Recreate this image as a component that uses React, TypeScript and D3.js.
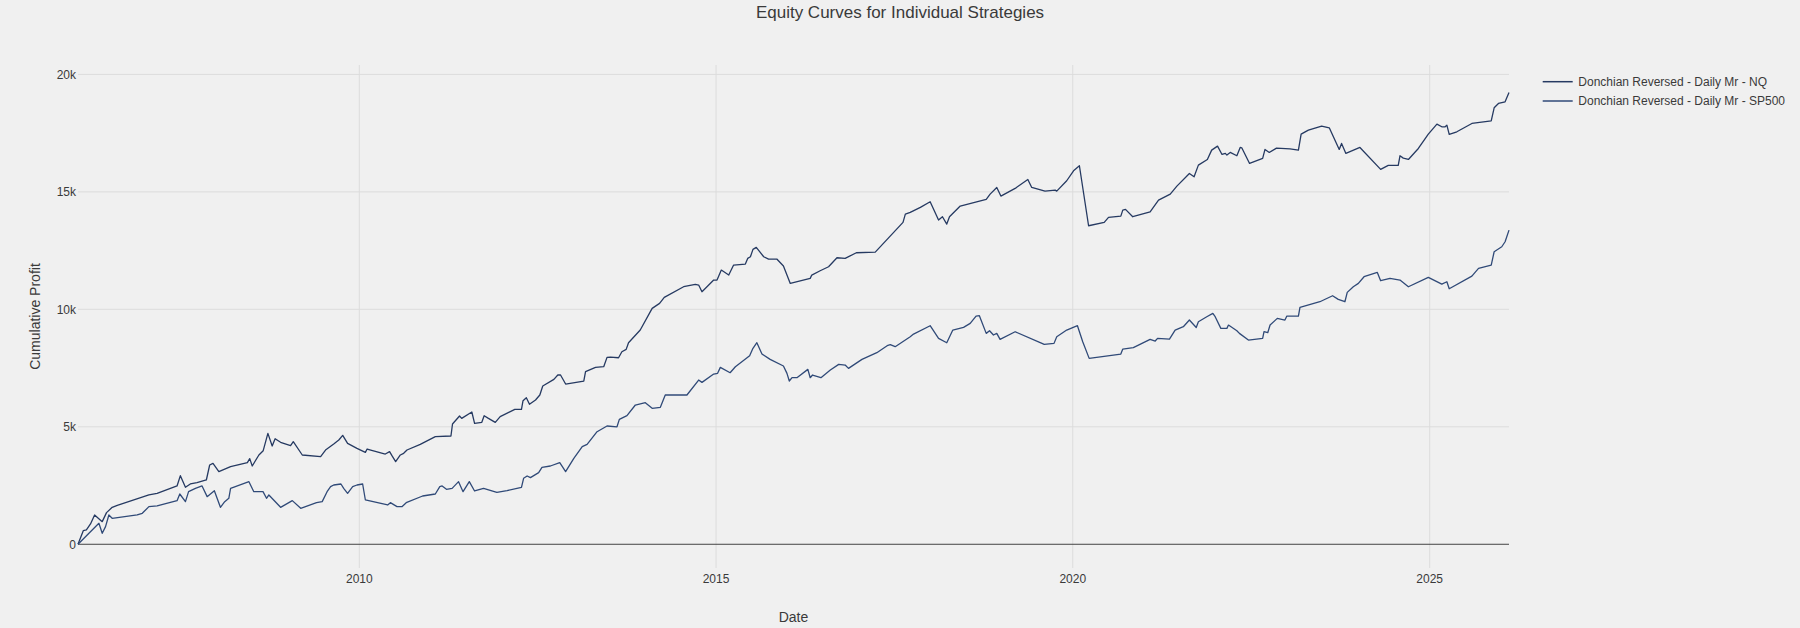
import * as d3 from "d3";
import { useEffect } from "react";

// --- data ---
const nqDates = [
  "2006-01-22", "2006-02-18", "2006-03-06", "2006-03-27", "2006-04-17", "2006-05-26", "2006-06-17", "2006-07-16",
  "2006-08-11", "2007-01-20", "2007-03-03", "2007-06-13", "2007-06-30", "2007-07-26", "2007-08-20", "2007-09-23",
  "2007-11-10", "2007-11-27", "2007-12-14", "2008-01-13", "2008-03-13", "2008-06-07", "2008-06-19", "2008-07-02",
  "2008-08-05", "2008-08-27", "2008-09-20", "2008-10-12", "2008-10-27", "2008-11-24", "2009-01-14", "2009-01-28",
  "2009-03-15", "2009-06-17", "2009-07-12", "2009-08-23", "2009-09-18", "2009-10-08", "2009-11-02", "2009-12-20",
  "2010-02-01", "2010-02-10", "2010-05-14", "2010-06-05", "2010-06-17", "2010-07-06", "2010-07-30", "2010-08-16",
  "2010-09-02", "2010-11-09", "2011-01-25", "2011-04-15", "2011-04-23", "2011-05-29", "2011-06-09", "2011-07-31",
  "2011-08-14", "2011-09-20", "2011-10-02", "2011-10-24", "2011-11-28", "2011-12-23", "2012-03-07", "2012-04-10",
  "2012-04-18", "2012-05-05", "2012-05-21", "2012-06-21", "2012-07-13", "2012-07-28", "2012-09-23", "2012-10-13",
  "2012-10-27", "2012-11-22", "2013-02-23", "2013-03-04", "2013-04-24", "2013-06-05", "2013-06-22", "2013-07-09",
  "2013-08-20", "2013-09-06", "2013-09-28", "2013-10-10", "2013-12-09", "2014-02-08", "2014-03-18", "2014-04-11",
  "2014-07-19", "2014-09-17", "2014-10-04", "2014-10-21", "2014-12-20", "2015-01-06", "2015-01-28", "2015-03-07",
  "2015-04-01", "2015-05-31", "2015-06-12", "2015-06-26", "2015-07-09", "2015-07-26", "2015-09-02", "2015-09-27",
  "2015-11-08", "2015-12-12", "2016-01-16", "2016-04-27", "2016-05-05", "2016-06-17", "2016-07-30", "2016-09-11",
  "2016-10-23", "2016-12-19", "2017-03-26", "2017-08-15", "2017-08-27", "2017-09-21", "2017-11-12", "2018-01-01",
  "2018-02-13", "2018-03-05", "2018-03-27", "2018-04-10", "2018-06-04", "2018-10-15", "2018-11-04", "2018-12-08",
  "2018-12-29", "2019-03-12", "2019-05-16", "2019-06-05", "2019-08-12", "2019-10-03", "2019-10-11", "2019-12-01",
  "2020-01-05", "2020-02-04", "2020-03-22", "2020-06-10", "2020-07-02", "2020-09-03", "2020-09-13", "2020-09-27",
  "2020-11-03", "2021-01-31", "2021-03-15", "2021-05-14", "2021-06-17", "2021-08-20", "2021-09-13", "2021-10-05",
  "2021-11-20", "2021-12-12", "2022-01-11", "2022-02-03", "2022-02-20", "2022-02-28", "2022-03-17", "2022-04-20",
  "2022-05-07", "2022-05-15", "2022-06-24", "2022-08-30", "2022-09-11", "2022-10-03", "2022-11-09", "2023-01-17",
  "2023-03-01", "2023-03-15", "2023-04-21", "2023-06-28", "2023-08-06", "2023-09-26", "2023-10-08", "2023-10-30",
  "2024-01-10", "2024-04-25", "2024-06-03", "2024-07-24", "2024-08-02", "2024-08-19", "2024-09-14", "2024-11-04",
  "2024-12-25", "2025-02-07", "2025-03-04", "2025-03-21", "2025-03-30", "2025-04-11", "2025-05-20", "2025-08-05",
  "2025-11-12", "2025-11-27", "2025-12-19", "2026-01-22", "2026-02-11",
];
const nqValues = [
  0, 580, 608, 864, 1247, 963, 1346, 1573,
  1658, 2098, 2169, 2481, 2920, 2424, 2566, 2622,
  2736, 3374, 3445, 3090, 3303, 3473, 3644, 3332,
  3800, 3984, 4722, 4183, 4495, 4339, 4197, 4367,
  3800, 3729, 4012, 4268, 4438, 4637, 4296, 4083,
  3913, 4055, 3842, 3941, 3771, 3516, 3800, 3871,
  4012, 4254, 4580, 4608, 5119, 5459, 5360, 5629,
  5147, 5190, 5473, 5360, 5190, 5431, 5743, 5743,
  6112, 6239, 5956, 6140, 6353, 6736, 7019, 7204,
  7204, 6821, 6948, 7345, 7530, 7558, 7956, 7970,
  7940, 8196, 8296, 8579, 9118, 10040, 10253, 10509,
  10962, 11062, 11033, 10749, 11246, 11246, 11671, 11459,
  11884, 11927, 12168, 12239, 12551, 12636, 12239, 12140,
  12140, 11842, 11104, 11317, 11459, 11643, 11813, 12196,
  12168, 12409, 12437, 13700, 14050, 14125, 14338, 14579,
  13799, 13941, 13629, 13941, 14395, 14678, 14905, 15189,
  14820, 15147, 15529, 15189, 15033, 15075, 15033, 15473,
  15898, 16111, 13558, 13700, 13913, 13969, 14224, 14253,
  13941, 14153, 14650, 14905, 15246, 15785, 15643, 16139,
  16380, 16777, 16948, 16593, 16636, 16565, 16678, 16536,
  16891, 16877, 16210, 16423, 16806, 16678, 16863, 16834,
  16777, 17458, 17628, 17799, 17728, 16806, 17061, 16636,
  16891, 15955, 16125, 16125, 16536, 16437, 16380, 16848,
  17458, 17884, 17770, 17770, 17841, 17444, 17557, 17912,
  18025, 18579, 18763, 18834, 19231,
];

const spDates = [
  "2006-01-22", "2006-05-09", "2006-05-26", "2006-06-12", "2006-06-29", "2006-07-16", "2006-11-21", "2006-12-17",
  "2007-01-20", "2007-03-03", "2007-06-13", "2007-06-27", "2007-07-26", "2007-08-11", "2007-09-15", "2007-10-19",
  "2007-11-14", "2007-12-21", "2008-01-21", "2008-02-12", "2008-03-04", "2008-03-13", "2008-06-15", "2008-07-10",
  "2008-08-26", "2008-09-13", "2008-09-25", "2008-11-24", "2009-01-23", "2009-03-07", "2009-05-27", "2009-06-25",
  "2009-07-20", "2009-08-07", "2009-08-23", "2009-09-29", "2009-10-13", "2009-11-02", "2009-11-28", "2009-12-20",
  "2010-01-18", "2010-02-01", "2010-05-26", "2010-06-09", "2010-07-13", "2010-08-07", "2010-08-29", "2010-11-21",
  "2011-01-25", "2011-02-17", "2011-03-01", "2011-03-23", "2011-04-21", "2011-05-24", "2011-06-16", "2011-07-18",
  "2011-08-14", "2011-09-29", "2011-12-06", "2012-01-27", "2012-04-10", "2012-04-21", "2012-05-09", "2012-05-26",
  "2012-07-07", "2012-07-24", "2012-09-05", "2012-10-23", "2012-11-22", "2013-01-03", "2013-02-15", "2013-03-12",
  "2013-05-02", "2013-06-22", "2013-08-12", "2013-08-24", "2013-10-02", "2013-11-14", "2014-01-04", "2014-02-08",
  "2014-03-22", "2014-04-16", "2014-08-05", "2014-10-04", "2014-10-21", "2014-12-20", "2015-01-09", "2015-01-23",
  "2015-03-14", "2015-04-10", "2015-06-22", "2015-07-09", "2015-07-29", "2015-08-24", "2015-10-05", "2015-12-12",
  "2015-12-30", "2016-01-11", "2016-01-25", "2016-02-19", "2016-04-15", "2016-04-27", "2016-05-09", "2016-06-21",
  "2016-08-08", "2016-09-20", "2016-10-23", "2016-11-09", "2017-01-17", "2017-04-03", "2017-05-26", "2017-06-11",
  "2017-07-06", "2017-09-21", "2017-10-08", "2018-01-01", "2018-02-13", "2018-03-27", "2018-04-27", "2018-06-21",
  "2018-07-25", "2018-08-24", "2018-09-10", "2018-10-15", "2018-11-01", "2018-11-21", "2018-12-08", "2018-12-25",
  "2019-03-12", "2019-08-08", "2019-09-27", "2019-10-11", "2019-12-01", "2020-01-25", "2020-02-21", "2020-03-25",
  "2020-09-03", "2020-09-13", "2020-11-06", "2021-01-31", "2021-02-26", "2021-03-10", "2021-05-10", "2021-06-08",
  "2021-07-20", "2021-08-20", "2021-09-24", "2021-10-05", "2021-11-17", "2021-12-18", "2021-12-30", "2022-01-28",
  "2022-02-28", "2022-03-08", "2022-04-20", "2022-05-03", "2022-06-18", "2022-08-30", "2022-09-06", "2022-09-25",
  "2022-10-07", "2022-11-13", "2022-12-22", "2023-01-01", "2023-03-01", "2023-03-09", "2023-06-19", "2023-08-23",
  "2023-09-21", "2023-10-25", "2023-11-06", "2023-12-07", "2024-01-02", "2024-01-31", "2024-04-08", "2024-04-25",
  "2024-06-12", "2024-08-02", "2024-09-14", "2024-12-25", "2025-03-04", "2025-03-30", "2025-04-11", "2025-08-05",
  "2025-09-08", "2025-11-12", "2025-11-27", "2026-01-05", "2026-01-22", "2026-02-11",
];
const spValues = [
  0, 892, 467, 750, 1247, 1105, 1247, 1318,
  1601, 1630, 1857, 2140, 1814, 2239, 2381, 2481,
  2027, 2282, 1573, 1814, 1956, 2381, 2665, 2239,
  2239, 1956, 2098, 1573, 1857, 1531, 1771, 1814,
  2239, 2452, 2523, 2566, 2381, 2169, 2452, 2523,
  2566, 1885, 1672, 1771, 1601, 1601, 1771, 2055,
  2140, 2452, 2481, 2339, 2381, 2665, 2239, 2665,
  2268, 2381, 2211, 2282, 2424, 2807, 2906, 2835,
  3048, 3275, 3332, 3473, 3090, 3658, 4154, 4254,
  4792, 5034, 5000, 5317, 5473, 5927, 6026, 5786,
  5828, 6353, 6353, 6991, 6892, 7246, 7275, 7530,
  7303, 7558, 8026, 8339, 8579, 8097, 7870, 7587,
  7275, 6948, 7090, 7090, 7445, 7090, 7204, 7090,
  7416, 7658, 7629, 7487, 7870, 8154, 8452, 8494,
  8409, 8835, 8948, 9303, 8764, 8579, 9118, 9232,
  9402, 9714, 9728, 8977, 9090, 8906, 8977, 8722,
  9047, 8509, 8551, 8835, 9118, 9303, 8622, 7913,
  8097, 8310, 8367, 8722, 8651, 8764, 8736, 9118,
  9260, 9544, 9225, 9473, 9686, 9828, 9686, 9190,
  9190, 9331, 9090, 8977, 8693, 8764, 9047, 9005,
  9331, 9615, 9544, 9714, 9714, 10083, 10324, 10579,
  10423, 10324, 10721, 10962, 11104, 11388, 11572, 11217,
  11317, 11246, 10962, 11359, 11076, 11175, 10877, 11416,
  11743, 11884, 12451, 12664, 12877, 13373,
];

const seriesNames = [
  "Donchian Reversed - Daily Mr - NQ",
  "Donchian Reversed - Daily Mr - SP500",
];
const seriesColors = ["#263a62", "#304a78"];

const xTicks = ["2010-01-01", "2015-01-01", "2020-01-01", "2025-01-01"];
const xTickLabels = ["2010", "2015", "2020", "2025"];
const yTicks = [0, 5000, 10000, 15000, 20000];
const yTickLabels = ["0", "5k", "10k", "15k", "20k"];

const width = 1800;
const height = 628;
const margin = { top: 65, right: 291, bottom: 60, left: 78 };
const font = "Arial, 'Liberation Sans', sans-serif";
const textColor = "#3a3a3a";

type Pt = { date: Date; value: number };

export default function App() {
  useEffect(() => {
    document.body.style.margin = "0";
    document.body.style.background = "#f0f0f0";
  }, []);

  const parse = d3.utcParse("%Y-%m-%d");
  const series: Pt[][] = [
    nqDates.map((d, i) => ({ date: parse(d) as Date, value: nqValues[i] })),
    spDates.map((d, i) => ({ date: parse(d) as Date, value: spValues[i] })),
  ];

  const allDates = series.flat().map((p) => p.date);
  const x = d3
    .scaleUtc()
    .domain(d3.extent(allDates) as [Date, Date])
    .range([margin.left, width - margin.right]);
  // plotly-like autorange padding (~24px each side)
  const y = d3.scaleLinear().domain([-1010, 20400]).range([height - margin.bottom, margin.top]);

  const line = d3
    .line<Pt>()
    .x((d) => x(d.date))
    .y((d) => y(d.value));

  const plotLeft = margin.left;
  const plotRight = width - margin.right;
  const plotTop = margin.top;
  const plotBottom = height - margin.bottom;

  return (
    <svg
      width={width}
      height={height}
      style={{ position: "absolute", left: 0, top: 0, display: "block", background: "#f0f0f0" }}
      fontFamily={font}
    >
      <rect x={0} y={0} width={width} height={height} fill="#f0f0f0" />

      {/* grid */}
      <g stroke="#dcdcdc" strokeWidth={1}>
        {xTicks.map((t) => (
          <line key={t} x1={x(parse(t) as Date)} x2={x(parse(t) as Date)} y1={plotTop} y2={plotBottom} />
        ))}
        {yTicks
          .filter((t) => t !== 0)
          .map((t) => (
            <line key={t} x1={plotLeft} x2={plotRight} y1={y(t)} y2={y(t)} />
          ))}
      </g>
      <line x1={plotLeft} x2={plotRight} y1={y(0)} y2={y(0)} stroke="#444" strokeWidth={1} />

      {/* series */}
      {series.map((s, i) => (
        <path
          key={i}
          d={line(s) || undefined}
          fill="none"
          stroke={seriesColors[i]}
          strokeWidth={1.3}
          strokeLinejoin="round"
        />
      ))}

      {/* axis tick labels */}
      <g fontSize={12} fill={textColor}>
        {xTicks.map((t, i) => (
          <text key={t} x={x(parse(t) as Date)} y={582.5} textAnchor="middle">
            {xTickLabels[i]}
          </text>
        ))}
        {yTicks.map((t, i) => (
          <text key={t} x={plotLeft - 2} y={y(t)} dy="0.36em" textAnchor="end">
            {yTickLabels[i]}
          </text>
        ))}
      </g>

      {/* axis titles */}
      <text x={(plotLeft + plotRight) / 2} y={622} textAnchor="middle" fontSize={14} fill={textColor}>
        Date
      </text>
      <text
        transform={`translate(40,${(plotTop + plotBottom) / 2}) rotate(-90)`}
        textAnchor="middle"
        fontSize={14}
        fill={textColor}
      >
        Cumulative Profit
      </text>

      {/* title */}
      <text x={width / 2} y={17.7} textAnchor="middle" fontSize={17} fill={textColor}>
        Equity Curves for Individual Strategies
      </text>

      {/* legend */}
      <g fontSize={12} fill={textColor}>
        {seriesNames.map((name, i) => (
          <g key={name} transform={`translate(1542.7,${81.7 + i * 19.3})`}>
            <line x1={0} x2={30} y1={0} y2={0} stroke={seriesColors[i]} strokeWidth={1.5} />
            <text x={35.6} y={0} dy="0.36em">
              {name}
            </text>
          </g>
        ))}
      </g>
    </svg>
  );
}
